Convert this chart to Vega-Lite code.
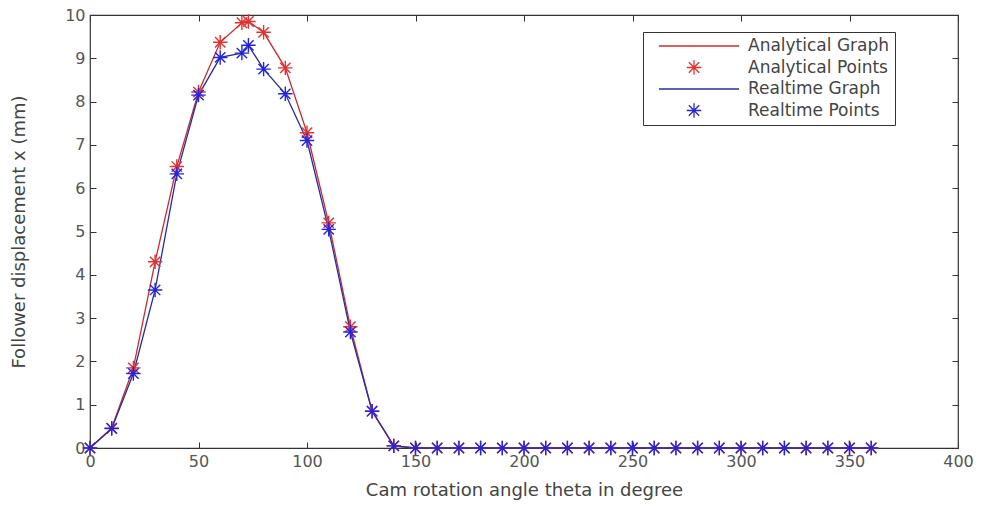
{
  "$schema": "https://vega.github.io/schema/vega-lite/v6.json",
  "width": 868,
  "height": 433,
  "autosize": {"type": "none"},
  "padding": {"left": 90, "top": 15, "right": 23, "bottom": 58},
  "background": "white",
  "config": {
    "view": {"stroke": "#333333", "strokeWidth": 1.2},
    "font": "DejaVu Sans",
    "axis": {
      "domain": false,
      "grid": false,
      "tickColor": "#333333",
      "tickSize": -6,
      "labelFlush": false,
      "labelColor": "#555555",
      "labelFont": "DejaVu Sans",
      "labelFontSize": 16,
      "titleColor": "#444444",
      "titleFont": "DejaVu Sans",
      "titleFontSize": 18,
      "titleFontWeight": "normal"
    },
    "legend": {
      "orient": "none",
      "legendX": 553,
      "legendY": 17,
      "strokeColor": "#333333",
      "fillColor": "white",
      "padding": 5,
      "clipHeight": 18,
      "rowPadding": 3.5,
      "symbolSize": 8100,
      "symbolStrokeWidth": 1.3,
      "labelOffset": 8,
      "labelFont": "DejaVu Sans",
      "labelFontSize": 17,
      "labelColor": "#444444"
    }
  },
  "data": {
    "values": [
      {"theta": 0, "x": 0, "graph": "Analytical Graph", "pts": "Analytical Points"},
      {"theta": 10, "x": 0.46, "graph": "Analytical Graph", "pts": "Analytical Points"},
      {"theta": 20, "x": 1.85, "graph": "Analytical Graph", "pts": "Analytical Points"},
      {"theta": 30, "x": 4.3, "graph": "Analytical Graph", "pts": "Analytical Points"},
      {"theta": 40, "x": 6.5, "graph": "Analytical Graph", "pts": "Analytical Points"},
      {"theta": 50, "x": 8.22, "graph": "Analytical Graph", "pts": "Analytical Points"},
      {"theta": 60, "x": 9.37, "graph": "Analytical Graph", "pts": "Analytical Points"},
      {"theta": 70, "x": 9.82, "graph": "Analytical Graph", "pts": "Analytical Points"},
      {"theta": 73, "x": 9.85, "graph": "Analytical Graph", "pts": "Analytical Points"},
      {"theta": 80, "x": 9.6, "graph": "Analytical Graph", "pts": "Analytical Points"},
      {"theta": 90, "x": 8.78, "graph": "Analytical Graph", "pts": "Analytical Points"},
      {"theta": 100, "x": 7.28, "graph": "Analytical Graph", "pts": "Analytical Points"},
      {"theta": 110, "x": 5.2, "graph": "Analytical Graph", "pts": "Analytical Points"},
      {"theta": 120, "x": 2.8, "graph": "Analytical Graph", "pts": "Analytical Points"},
      {"theta": 130, "x": 0.85, "graph": "Analytical Graph", "pts": "Analytical Points"},
      {"theta": 140, "x": 0.05, "graph": "Analytical Graph", "pts": "Analytical Points"},
      {"theta": 150, "x": 0, "graph": "Analytical Graph", "pts": "Analytical Points"},
      {"theta": 160, "x": 0, "graph": "Analytical Graph", "pts": "Analytical Points"},
      {"theta": 170, "x": 0, "graph": "Analytical Graph", "pts": "Analytical Points"},
      {"theta": 180, "x": 0, "graph": "Analytical Graph", "pts": "Analytical Points"},
      {"theta": 190, "x": 0, "graph": "Analytical Graph", "pts": "Analytical Points"},
      {"theta": 200, "x": 0, "graph": "Analytical Graph", "pts": "Analytical Points"},
      {"theta": 210, "x": 0, "graph": "Analytical Graph", "pts": "Analytical Points"},
      {"theta": 220, "x": 0, "graph": "Analytical Graph", "pts": "Analytical Points"},
      {"theta": 230, "x": 0, "graph": "Analytical Graph", "pts": "Analytical Points"},
      {"theta": 240, "x": 0, "graph": "Analytical Graph", "pts": "Analytical Points"},
      {"theta": 250, "x": 0, "graph": "Analytical Graph", "pts": "Analytical Points"},
      {"theta": 260, "x": 0, "graph": "Analytical Graph", "pts": "Analytical Points"},
      {"theta": 270, "x": 0, "graph": "Analytical Graph", "pts": "Analytical Points"},
      {"theta": 280, "x": 0, "graph": "Analytical Graph", "pts": "Analytical Points"},
      {"theta": 290, "x": 0, "graph": "Analytical Graph", "pts": "Analytical Points"},
      {"theta": 300, "x": 0, "graph": "Analytical Graph", "pts": "Analytical Points"},
      {"theta": 310, "x": 0, "graph": "Analytical Graph", "pts": "Analytical Points"},
      {"theta": 320, "x": 0, "graph": "Analytical Graph", "pts": "Analytical Points"},
      {"theta": 330, "x": 0, "graph": "Analytical Graph", "pts": "Analytical Points"},
      {"theta": 340, "x": 0, "graph": "Analytical Graph", "pts": "Analytical Points"},
      {"theta": 350, "x": 0, "graph": "Analytical Graph", "pts": "Analytical Points"},
      {"theta": 360, "x": 0, "graph": "Analytical Graph", "pts": "Analytical Points"},
      {"theta": 0, "x": 0, "graph": "Realtime Graph", "pts": "Realtime Points"},
      {"theta": 10, "x": 0.45, "graph": "Realtime Graph", "pts": "Realtime Points"},
      {"theta": 20, "x": 1.72, "graph": "Realtime Graph", "pts": "Realtime Points"},
      {"theta": 30, "x": 3.65, "graph": "Realtime Graph", "pts": "Realtime Points"},
      {"theta": 40, "x": 6.33, "graph": "Realtime Graph", "pts": "Realtime Points"},
      {"theta": 50, "x": 8.15, "graph": "Realtime Graph", "pts": "Realtime Points"},
      {"theta": 60, "x": 9.02, "graph": "Realtime Graph", "pts": "Realtime Points"},
      {"theta": 70, "x": 9.12, "graph": "Realtime Graph", "pts": "Realtime Points"},
      {"theta": 73, "x": 9.3, "graph": "Realtime Graph", "pts": "Realtime Points"},
      {"theta": 80, "x": 8.75, "graph": "Realtime Graph", "pts": "Realtime Points"},
      {"theta": 90, "x": 8.18, "graph": "Realtime Graph", "pts": "Realtime Points"},
      {"theta": 100, "x": 7.1, "graph": "Realtime Graph", "pts": "Realtime Points"},
      {"theta": 110, "x": 5.05, "graph": "Realtime Graph", "pts": "Realtime Points"},
      {"theta": 120, "x": 2.68, "graph": "Realtime Graph", "pts": "Realtime Points"},
      {"theta": 130, "x": 0.85, "graph": "Realtime Graph", "pts": "Realtime Points"},
      {"theta": 140, "x": 0.05, "graph": "Realtime Graph", "pts": "Realtime Points"},
      {"theta": 150, "x": 0, "graph": "Realtime Graph", "pts": "Realtime Points"},
      {"theta": 160, "x": 0, "graph": "Realtime Graph", "pts": "Realtime Points"},
      {"theta": 170, "x": 0, "graph": "Realtime Graph", "pts": "Realtime Points"},
      {"theta": 180, "x": 0, "graph": "Realtime Graph", "pts": "Realtime Points"},
      {"theta": 190, "x": 0, "graph": "Realtime Graph", "pts": "Realtime Points"},
      {"theta": 200, "x": 0, "graph": "Realtime Graph", "pts": "Realtime Points"},
      {"theta": 210, "x": 0, "graph": "Realtime Graph", "pts": "Realtime Points"},
      {"theta": 220, "x": 0, "graph": "Realtime Graph", "pts": "Realtime Points"},
      {"theta": 230, "x": 0, "graph": "Realtime Graph", "pts": "Realtime Points"},
      {"theta": 240, "x": 0, "graph": "Realtime Graph", "pts": "Realtime Points"},
      {"theta": 250, "x": 0, "graph": "Realtime Graph", "pts": "Realtime Points"},
      {"theta": 260, "x": 0, "graph": "Realtime Graph", "pts": "Realtime Points"},
      {"theta": 270, "x": 0, "graph": "Realtime Graph", "pts": "Realtime Points"},
      {"theta": 280, "x": 0, "graph": "Realtime Graph", "pts": "Realtime Points"},
      {"theta": 290, "x": 0, "graph": "Realtime Graph", "pts": "Realtime Points"},
      {"theta": 300, "x": 0, "graph": "Realtime Graph", "pts": "Realtime Points"},
      {"theta": 310, "x": 0, "graph": "Realtime Graph", "pts": "Realtime Points"},
      {"theta": 320, "x": 0, "graph": "Realtime Graph", "pts": "Realtime Points"},
      {"theta": 330, "x": 0, "graph": "Realtime Graph", "pts": "Realtime Points"},
      {"theta": 340, "x": 0, "graph": "Realtime Graph", "pts": "Realtime Points"},
      {"theta": 350, "x": 0, "graph": "Realtime Graph", "pts": "Realtime Points"},
      {"theta": 360, "x": 0, "graph": "Realtime Graph", "pts": "Realtime Points"}
    ]
  },
  "layer": [
    {
      "mark": {"type": "line", "strokeWidth": 1.3},
      "encoding": {
        "x": {
          "field": "theta", "type": "quantitative",
          "scale": {"domain": [0, 400], "nice": false},
          "axis": {"orient": "bottom", "values": [0, 50, 100, 150, 200, 250, 300, 350, 400], "title": "Cam rotation angle theta in degree", "labelPadding": 11, "titlePadding": 12}
        },
        "y": {
          "field": "x", "type": "quantitative",
          "scale": {"domain": [0, 10], "nice": false, "zero": true},
          "axis": {"orient": "left", "values": [0, 1, 2, 3, 4, 5, 6, 7, 8, 9, 10], "title": "Follower displacement x (mm)", "labelPadding": 11, "titlePadding": 36}
        },
        "color": {
          "field": "graph", "type": "nominal",
          "scale": {"domain": ["Analytical Graph", "Analytical Points", "Realtime Graph", "Realtime Points"], "range": ["#cc2b2b", "#e53030", "#2a2aa8", "#2424e0"]},
          "legend": {"title": null}
        },
        "detail": {"field": "graph"}
      }
    },
    {
      "mark": {"type": "point", "filled": false, "size": 8100, "strokeWidth": 1.4, "opacity": 1},
      "encoding": {
        "x": {
          "field": "theta", "type": "quantitative",
          "scale": {"domain": [0, 400], "nice": false},
          "axis": {"orient": "top", "values": [0, 50, 100, 150, 200, 250, 300, 350, 400], "labels": false, "title": null}
        },
        "y": {
          "field": "x", "type": "quantitative",
          "scale": {"domain": [0, 10], "nice": false},
          "axis": {"orient": "right", "values": [0, 1, 2, 3, 4, 5, 6, 7, 8, 9, 10], "labels": false, "title": null}
        },
        "color": {
          "field": "pts", "type": "nominal",
          "scale": {"domain": ["Analytical Graph", "Analytical Points", "Realtime Graph", "Realtime Points"], "range": ["#cc2b2b", "#e53030", "#2a2aa8", "#2424e0"]},
          "legend": {"title": null}
        },
        "shape": {
          "field": "pts", "type": "nominal",
          "scale": {"domain": ["Analytical Graph", "Analytical Points", "Realtime Graph", "Realtime Points"], "range": ["M-0.78,0L1,0", "M0,-0.16L0,0.16M-0.16,0L0.16,0M-0.115,-0.115L0.115,0.115M-0.115,0.115L0.115,-0.115", "M-0.78,0L1,0", "M0,-0.16L0,0.16M-0.16,0L0.16,0M-0.115,-0.115L0.115,0.115M-0.115,0.115L0.115,-0.115"]},
          "legend": {"title": null}
        }
      }
    }
  ]
}
